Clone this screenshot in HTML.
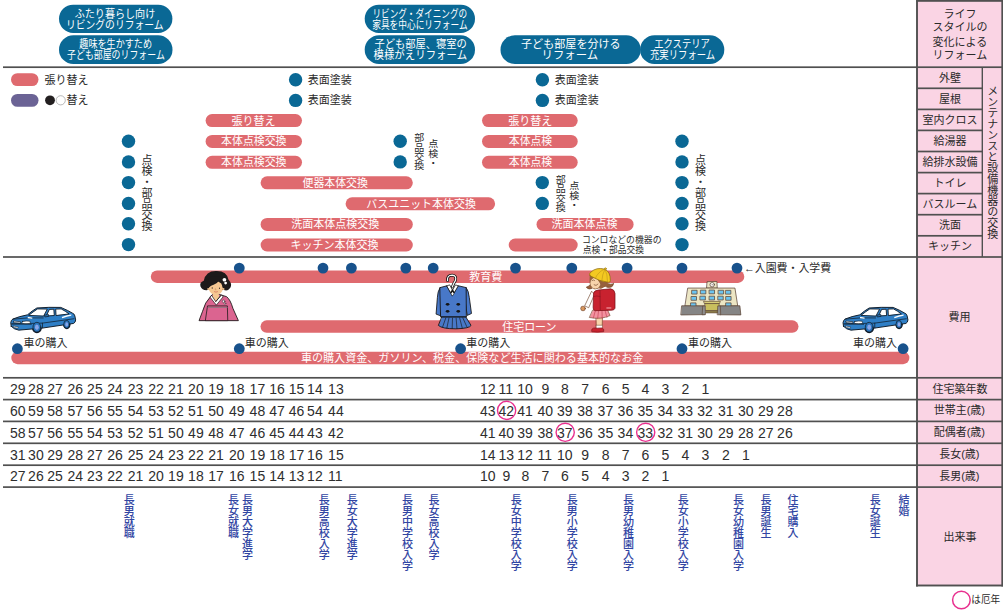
<!DOCTYPE html>
<html lang="ja"><head><meta charset="utf-8"><title>ライフステージとリフォーム・費用の年表</title>
<style>html,body{margin:0;padding:0;background:#fff}body{font-family:"Liberation Sans",sans-serif}svg{display:block}svg text{font-family:"Liberation Sans","Noto Sans CJK JP",sans-serif}</style></head>
<body>
<svg width="1003" height="610" viewBox="0 0 1003 610" role="img">
<rect x="917" y="0" width="86" height="586" fill="#fad4e4"/>
<rect x="59" y="4.7" width="113.4" height="28.3" rx="14.15" fill="#0a6895"/>
<text x="74.7" y="18.04" font-size="11" fill="#ffffff" textLength="80.5" lengthAdjust="spacingAndGlyphs">ふたり暮らし向け</text>
<text x="65.9" y="28.84" font-size="11" fill="#ffffff" textLength="97.7" lengthAdjust="spacingAndGlyphs">リビングのリフォーム</text>
<rect x="59" y="35.2" width="113.5" height="28.9" rx="14.45" fill="#0a6895"/>
<text x="79.3" y="48.14" font-size="11" fill="#ffffff" textLength="72.7" lengthAdjust="spacingAndGlyphs">趣味を生かすため</text>
<text x="67.1" y="59.04" font-size="11" fill="#ffffff" textLength="97.7" lengthAdjust="spacingAndGlyphs">子ども部屋のリフォーム</text>
<rect x="364.7" y="4.7" width="110.3" height="28.3" rx="14.15" fill="#0a6895"/>
<text x="372.4" y="18.04" font-size="11" fill="#ffffff" textLength="94.8" lengthAdjust="spacingAndGlyphs">リビング・ダイニングの</text>
<text x="372.2" y="28.84" font-size="11" fill="#ffffff" textLength="95.4" lengthAdjust="spacingAndGlyphs">家具を中心にリフォーム</text>
<rect x="364.7" y="35.2" width="110.3" height="28.9" rx="14.45" fill="#0a6895"/>
<text x="374.4" y="48.14" font-size="11" fill="#ffffff" textLength="92.4" lengthAdjust="spacingAndGlyphs">子ども部屋、寝室の</text>
<text x="373.5" y="59.04" font-size="11" fill="#ffffff" textLength="93.6" lengthAdjust="spacingAndGlyphs">模様がえリフォーム</text>
<rect x="500.5" y="35.2" width="140.2" height="28.9" rx="14.45" fill="#0a6895"/>
<text x="521" y="48.14" font-size="11" fill="#ffffff" textLength="99.7" lengthAdjust="spacingAndGlyphs">子ども部屋を分ける</text>
<text x="541.6" y="59.04" font-size="11" fill="#ffffff" textLength="56.5" lengthAdjust="spacingAndGlyphs">リフォーム</text>
<rect x="640.1" y="35.2" width="84.2" height="28.9" rx="14.45" fill="#0a6895"/>
<text x="654.2" y="48.14" font-size="11" fill="#ffffff" textLength="55.7" lengthAdjust="spacingAndGlyphs">エクステリア</text>
<text x="650" y="59.04" font-size="11" fill="#ffffff" textLength="65.2" lengthAdjust="spacingAndGlyphs">充実リフォーム</text>
<rect x="11" y="73.2" width="27.5" height="12.8" rx="6.4" fill="#df6a6f"/>
<rect x="11" y="93.9" width="27.5" height="12.9" rx="6.45" fill="#6b6395"/>
<text x="44.5" y="84.04" font-size="11" fill="#2a2a2a">張り替え</text>
<circle cx="50" cy="100.3" r="4.9" fill="#231f20"/>
<circle cx="60.7" cy="100.3" r="4.6" fill="#fff" stroke="#8a8a8a" stroke-width="0.6"/>
<text x="66.5" y="104.34" font-size="11" fill="#2a2a2a">替え</text>
<circle cx="295.6" cy="79.8" r="6.7" fill="#0a6895"/>
<text x="307.7" y="83.84" font-size="11" fill="#2a2a2a">表面塗装</text>
<circle cx="295.6" cy="100.4" r="6.7" fill="#0a6895"/>
<text x="307.7" y="104.44" font-size="11" fill="#2a2a2a">表面塗装</text>
<circle cx="542.4" cy="79.8" r="6.7" fill="#0a6895"/>
<text x="554.7" y="83.84" font-size="11" fill="#2a2a2a">表面塗装</text>
<circle cx="542.4" cy="100.4" r="6.7" fill="#0a6895"/>
<text x="554.7" y="104.44" font-size="11" fill="#2a2a2a">表面塗装</text>
<rect x="205.6" y="114.1" width="96.4" height="13" rx="6.5" fill="#df6a6f"/>
<text x="231.6" y="124.64" font-size="11" fill="#ffffff">張り替え</text>
<rect x="482" y="114.1" width="95.7" height="13" rx="6.5" fill="#df6a6f"/>
<text x="508.3" y="124.64" font-size="11" fill="#ffffff">張り替え</text>
<rect x="205.6" y="134.9" width="96.4" height="13" rx="6.5" fill="#df6a6f"/>
<text x="221.1" y="145.44" font-size="11" fill="#ffffff" textLength="65.4" lengthAdjust="spacingAndGlyphs">本体点検交換</text>
<rect x="482" y="134.9" width="95.7" height="13" rx="6.5" fill="#df6a6f"/>
<text x="508.8" y="145.44" font-size="11" fill="#ffffff" textLength="43.4" lengthAdjust="spacingAndGlyphs">本体点検</text>
<rect x="205.6" y="155.8" width="96.4" height="13" rx="6.5" fill="#df6a6f"/>
<text x="221.1" y="166.34" font-size="11" fill="#ffffff" textLength="65.4" lengthAdjust="spacingAndGlyphs">本体点検交換</text>
<rect x="482" y="155.8" width="95.7" height="13" rx="6.5" fill="#df6a6f"/>
<text x="508.8" y="166.34" font-size="11" fill="#ffffff" textLength="43.4" lengthAdjust="spacingAndGlyphs">本体点検</text>
<rect x="260.6" y="176.3" width="152.2" height="13" rx="6.5" fill="#df6a6f"/>
<text x="302.5" y="186.84" font-size="11" fill="#ffffff" textLength="65.4" lengthAdjust="spacingAndGlyphs">便器本体交換</text>
<rect x="345.6" y="197.3" width="149.5" height="13" rx="6.5" fill="#df6a6f"/>
<text x="366.3" y="207.84" font-size="11" fill="#ffffff" textLength="109.6" lengthAdjust="spacingAndGlyphs">バスユニット本体交換</text>
<rect x="260.6" y="217.9" width="152.2" height="13" rx="6.5" fill="#df6a6f"/>
<text x="291.2" y="228.44" font-size="11" fill="#ffffff">洗面本体点検交換</text>
<rect x="536.5" y="217.9" width="97.1" height="13" rx="6.5" fill="#df6a6f"/>
<text x="551.4" y="228.44" font-size="11" fill="#ffffff">洗面本体点検</text>
<rect x="260.6" y="238.5" width="152.2" height="13" rx="6.5" fill="#df6a6f"/>
<text x="290.6" y="249.04" font-size="11" fill="#ffffff">キッチン本体交換</text>
<rect x="508.7" y="238.5" width="69" height="13" rx="6.5" fill="#df6a6f"/>
<circle cx="128.5" cy="141.2" r="6.7" fill="#0a6895"/>
<circle cx="682" cy="141.2" r="6.7" fill="#0a6895"/>
<circle cx="128.5" cy="161.9" r="6.7" fill="#0a6895"/>
<circle cx="682" cy="161.9" r="6.7" fill="#0a6895"/>
<circle cx="128.5" cy="182.6" r="6.7" fill="#0a6895"/>
<circle cx="682" cy="182.6" r="6.7" fill="#0a6895"/>
<circle cx="128.5" cy="203.4" r="6.7" fill="#0a6895"/>
<circle cx="682" cy="203.4" r="6.7" fill="#0a6895"/>
<circle cx="128.5" cy="223.8" r="6.7" fill="#0a6895"/>
<circle cx="682" cy="223.8" r="6.7" fill="#0a6895"/>
<circle cx="128.5" cy="244.6" r="6.7" fill="#0a6895"/>
<circle cx="682" cy="244.6" r="6.7" fill="#0a6895"/>
<circle cx="400.2" cy="141.2" r="6.7" fill="#0a6895"/>
<circle cx="400.2" cy="161.9" r="6.7" fill="#0a6895"/>
<circle cx="542.3" cy="182.6" r="6.7" fill="#0a6895"/>
<circle cx="542.3" cy="203.4" r="6.7" fill="#0a6895"/>
<text x="146.1" y="154.3" font-size="11" fill="#2a2a2a" style="writing-mode:vertical-rl">点検・部品交換</text>
<text x="699.5" y="154.3" font-size="11" fill="#2a2a2a" style="writing-mode:vertical-rl">点検・部品交換</text>
<text x="418.2" y="133.1" font-size="10" fill="#2a2a2a" style="writing-mode:vertical-rl" textLength="37.2" lengthAdjust="spacingAndGlyphs">部品交換</text>
<text x="432.2" y="138.9" font-size="10" fill="#2a2a2a" style="writing-mode:vertical-rl" textLength="28.3" lengthAdjust="spacingAndGlyphs">点検・</text>
<text x="559.8" y="174.3" font-size="10" fill="#2a2a2a" style="writing-mode:vertical-rl" textLength="38" lengthAdjust="spacingAndGlyphs">部品交換</text>
<text x="573.2" y="180.8" font-size="10" fill="#2a2a2a" style="writing-mode:vertical-rl" textLength="28.5" lengthAdjust="spacingAndGlyphs">点検・</text>
<text x="581.9" y="243.48" font-size="9.4" fill="#2a2a2a" textLength="79.6" lengthAdjust="spacingAndGlyphs">コンロなどの機器の</text>
<text x="582.7" y="252.68" font-size="9.4" fill="#2a2a2a" textLength="61.3" lengthAdjust="spacingAndGlyphs">点検・部品交換</text>
<rect x="150.8" y="270.4" width="593.5" height="12.5" rx="6.25" fill="#df6a6f"/>
<rect x="260.5" y="320.3" width="538" height="12.5" rx="6.25" fill="#df6a6f"/>
<rect x="11.3" y="351.7" width="898.1" height="12.5" rx="6.25" fill="#df6a6f"/>
<text x="469.3" y="280.84" font-size="11" fill="#ffffff">教育費</text>
<text x="502.2" y="330.54" font-size="11" fill="#ffffff" textLength="54.3" lengthAdjust="spacingAndGlyphs">住宅ローン</text>
<text x="300.9" y="362.04" font-size="11" fill="#ffffff" textLength="342.4" lengthAdjust="spacingAndGlyphs">車の購入資金、ガソリン、税金、保険など生活に関わる基本的なお金</text>
<g transform="translate(5.00 300.00) scale(0.07974)" stroke-linejoin="round" stroke-linecap="round"><title>車</title><ellipse cx="775" cy="306" rx="47" ry="60" fill="#101a26"/><ellipse cx="400" cy="342" rx="63" ry="76" fill="#101a26"/><path d="M78 330 L72 285 Q75 250 100 238 Q180 205 282 186 Q340 135 400 100 Q550 88 700 93 Q790 130 848 166 Q872 175 876 200 L886 250 Q884 282 860 294 L470 352 L172 378 Q110 368 78 330Z" fill="#2f7fc6" stroke="#101a26" stroke-width="12"/><path d="M300 190 Q350 150 408 112 L530 114 L486 198Z" fill="#fff" stroke="#101a26" stroke-width="11"/><path d="M520 196 L556 118 L612 116 L618 190Z" fill="#fff" stroke="#101a26" stroke-width="11"/><path d="M640 190 L636 114 L705 112 Q760 140 800 172Z" fill="#fff" stroke="#101a26" stroke-width="11"/><path d="M500 190 L545 182 L548 205 L505 212Z" fill="#2f7fc6" stroke="#101a26" stroke-width="9"/><path d="M92 300 L470 290 L865 235 M470 290 L470 350 M100 240 Q300 215 480 225" fill="none" stroke="#101a26" stroke-width="9"/><path d="M218 270 Q265 258 312 266 Q322 282 310 294 Q262 300 220 294 Q208 282 218 270Z" fill="#fff" stroke="#101a26" stroke-width="8"/><path d="M110 264 L195 272 L195 290 L114 284Z" fill="#fff" stroke="#101a26" stroke-width="8"/><path d="M104 326 L166 338 L166 354 L108 344Z" fill="#fff" stroke="#101a26" stroke-width="6"/><path d="M80 300 L330 306" fill="none" stroke="#101a26" stroke-width="8"/><path d="M285 214 Q320 212 345 222 L340 236 Q315 230 285 228Z" fill="#fff"/><path d="M712 212 Q780 186 834 182 L830 198 Q780 208 718 230Z" fill="#fff"/><ellipse cx="400" cy="341" rx="49" ry="61" fill="#2a74bb" stroke="#101a26" stroke-width="9"/><ellipse cx="400" cy="342" rx="24" ry="34" fill="#8aa6e8"/><ellipse cx="772" cy="305" rx="36" ry="48" fill="#2a74bb" stroke="#101a26" stroke-width="9"/><ellipse cx="774" cy="306" rx="17" ry="26" fill="#8aa6e8"/></g>
<g transform="translate(837.30 300.00) scale(0.07974)" stroke-linejoin="round" stroke-linecap="round"><title>車</title><ellipse cx="775" cy="306" rx="47" ry="60" fill="#101a26"/><ellipse cx="400" cy="342" rx="63" ry="76" fill="#101a26"/><path d="M78 330 L72 285 Q75 250 100 238 Q180 205 282 186 Q340 135 400 100 Q550 88 700 93 Q790 130 848 166 Q872 175 876 200 L886 250 Q884 282 860 294 L470 352 L172 378 Q110 368 78 330Z" fill="#2f7fc6" stroke="#101a26" stroke-width="12"/><path d="M300 190 Q350 150 408 112 L530 114 L486 198Z" fill="#fff" stroke="#101a26" stroke-width="11"/><path d="M520 196 L556 118 L612 116 L618 190Z" fill="#fff" stroke="#101a26" stroke-width="11"/><path d="M640 190 L636 114 L705 112 Q760 140 800 172Z" fill="#fff" stroke="#101a26" stroke-width="11"/><path d="M500 190 L545 182 L548 205 L505 212Z" fill="#2f7fc6" stroke="#101a26" stroke-width="9"/><path d="M92 300 L470 290 L865 235 M470 290 L470 350 M100 240 Q300 215 480 225" fill="none" stroke="#101a26" stroke-width="9"/><path d="M218 270 Q265 258 312 266 Q322 282 310 294 Q262 300 220 294 Q208 282 218 270Z" fill="#fff" stroke="#101a26" stroke-width="8"/><path d="M110 264 L195 272 L195 290 L114 284Z" fill="#fff" stroke="#101a26" stroke-width="8"/><path d="M104 326 L166 338 L166 354 L108 344Z" fill="#fff" stroke="#101a26" stroke-width="6"/><path d="M80 300 L330 306" fill="none" stroke="#101a26" stroke-width="8"/><path d="M285 214 Q320 212 345 222 L340 236 Q315 230 285 228Z" fill="#fff"/><path d="M712 212 Q780 186 834 182 L830 198 Q780 208 718 230Z" fill="#fff"/><ellipse cx="400" cy="341" rx="49" ry="61" fill="#2a74bb" stroke="#101a26" stroke-width="9"/><ellipse cx="400" cy="342" rx="24" ry="34" fill="#8aa6e8"/><ellipse cx="772" cy="305" rx="36" ry="48" fill="#2a74bb" stroke="#101a26" stroke-width="9"/><ellipse cx="774" cy="306" rx="17" ry="26" fill="#8aa6e8"/></g>
<g transform="translate(190.00 265.00) scale(0.09833)" stroke-linejoin="round" stroke-linecap="round"><title>成人式の振袖姿の女性</title><path d="M208 322 Q150 380 128 470 L92 566 L492 566 L436 440 Q410 350 372 322 L300 300 L230 302Z" fill="#db6490" stroke="#1d1a1a" stroke-width="9"/><path d="M235 290 L290 290 L300 330 L262 372 L228 330Z" fill="#f6c792"/><path d="M222 312 L262 372 L318 306 L338 322 L268 408 L204 328Z" fill="#fff" stroke="#1d1a1a" stroke-width="7"/><path d="M262 372 L318 306" fill="none" stroke="#1d1a1a" stroke-width="7"/><path d="M182 416 L380 416 L384 566 L160 566Z" fill="#db6490" stroke="#1d1a1a" stroke-width="8"/><path d="M184 432 L380 432" fill="none" stroke="#7a7a7a" stroke-width="7"/><circle cx="342" cy="370" r="13" fill="#f3e6ee" stroke="#1d1a1a" stroke-width="5"/><circle cx="356" cy="392" r="9" fill="#f3e6ee" stroke="#1d1a1a" stroke-width="4"/><path d="M262 60 Q375 55 392 150 Q432 190 410 232 Q385 270 345 255 L180 255 Q125 262 106 215 Q96 175 140 160 Q160 60 262 60Z" fill="#1d1a1a"/><circle cx="186" cy="244" r="11" fill="#f6c792"/><circle cx="340" cy="244" r="11" fill="#f6c792"/><ellipse cx="263" cy="236" rx="71" ry="70" fill="#f6c792"/><path d="M186 240 Q196 214 240 200 Q280 186 300 152 Q330 186 338 240 Q372 150 300 112 L205 122 Q160 170 186 240Z" fill="#1d1a1a"/><ellipse cx="226" cy="234" rx="6" ry="8" fill="#3a2a22"/><ellipse cx="300" cy="236" rx="6" ry="8" fill="#3a2a22"/><path d="M258 240 L256 252 L264 252" fill="none" stroke="#b0764e" stroke-width="4"/><path d="M248 272 Q264 282 280 272" fill="none" stroke="#c2453f" stroke-width="5"/><circle cx="350" cy="150" r="19" fill="#fff"/><circle cx="362" cy="184" r="14" fill="#fff"/></g>
<g transform="translate(425.00 270.00) scale(0.10658)" stroke-linejoin="round" stroke-linecap="round"><title>中学・高校の制服</title><path d="M212 100 Q205 48 255 48 Q300 52 285 100 Q268 125 256 160" fill="none" stroke="#141414" stroke-width="26"/><path d="M212 100 Q205 48 255 48 Q300 52 285 100 Q268 125 256 160" fill="none" stroke="#fff" stroke-width="11"/><path d="M162 436 L380 436 L432 520 Q420 548 290 552 Q160 552 128 522Z" fill="#4878c8" stroke="#141414" stroke-width="8"/><path d="M195 450 L165 535 M225 450 L205 545 M258 452 L255 550 M292 452 L300 550 M325 450 L350 545 M355 450 L395 538" fill="none" stroke="#141414" stroke-width="6"/><path d="M142 165 Q118 200 116 260 L104 414 L148 430 L168 300Z" fill="#4878c8" stroke="#141414" stroke-width="8"/><path d="M386 165 Q410 195 416 260 L436 408 L396 426 L378 300Z" fill="#4878c8" stroke="#141414" stroke-width="8"/><path d="M142 165 L206 148 L258 238 L312 148 L386 165 L388 440 L150 440Z" fill="#4878c8" stroke="#141414" stroke-width="8"/><path d="M206 148 L232 140 L258 190 L286 140 L312 148 L258 242Z" fill="#fff" stroke="#141414" stroke-width="7"/><path d="M258 178 L280 208 L258 240 L236 208Z" fill="#141414"/><path d="M258 205 L270 222 L258 240 L246 222Z" fill="#fff"/><ellipse cx="212" cy="322" rx="17" ry="13" fill="#141414"/><ellipse cx="312" cy="322" rx="17" ry="13" fill="#141414"/><ellipse cx="212" cy="388" rx="17" ry="13" fill="#141414"/><ellipse cx="312" cy="388" rx="17" ry="13" fill="#141414"/><path d="M150 440 L388 440" stroke="#141414" stroke-width="8"/></g>
<g transform="translate(570.00 262.00) scale(0.12296)" stroke-linejoin="round" stroke-linecap="round"><title>ランドセルを背負った小学生</title><path d="M300 170 Q335 190 355 172 Q350 215 300 205Z" fill="#96603c" stroke="#6b3d22" stroke-width="5"/><path d="M190 205 Q160 235 132 205 Q150 200 165 185Z" fill="#96603c" stroke="#6b3d22" stroke-width="5"/><path d="M160 110 Q150 200 200 222 L300 200 L310 140Z" fill="#96603c"/><path d="M214 450 L264 450 L262 520 L216 520Z" fill="#f8d3ab" stroke="#6b3d22" stroke-width="5"/><path d="M214 514 L264 514 L264 545 L214 545Z" fill="#fff" stroke="#6b3d22" stroke-width="4"/><path d="M176 552 Q180 530 222 538 L262 536 Q280 545 274 566 Q225 575 180 568Z" fill="#c8222f" stroke="#7a1018" stroke-width="5"/><path d="M186 392 L305 388 L326 436 Q250 470 160 452Z" fill="#f3929f" stroke="#6b3d22" stroke-width="5"/><path d="M205 400 L190 455 M232 398 L225 460 M260 396 L262 460 M285 394 L300 450" fill="none" stroke="#c84a5e" stroke-width="6"/><ellipse cx="207" cy="172" rx="44" ry="47" fill="#f8d3ab" stroke="#6b3d22" stroke-width="4"/><path d="M180 150 Q190 140 200 150" fill="none" stroke="#6b3d22" stroke-width="5"/><path d="M196 186 Q212 200 228 180" fill="none" stroke="#6b3d22" stroke-width="5"/><path d="M215 120 Q235 170 260 190 Q250 215 232 222 Q290 215 300 150Z" fill="#96603c"/><path d="M178 240 L200 262 L152 372 L122 358Z" fill="#fff" stroke="#6b3d22" stroke-width="5"/><circle cx="106" cy="378" r="19" fill="#d9975e" stroke="#6b3d22" stroke-width="5"/><path d="M192 250 Q196 232 230 228 L330 218 Q362 222 366 256 L366 376 Q360 392 340 392 L205 396 Q186 392 188 372Z" fill="#c8222f" stroke="#7a1018" stroke-width="6"/><path d="M244 232 L246 392" stroke="#8e1420" stroke-width="6"/><path d="M192 280 Q215 272 244 280" fill="none" stroke="#8e1420" stroke-width="5"/><rect x="296" y="366" width="40" height="16" fill="#e36a74"/><path d="M163 112 Q150 96 170 82 Q215 40 282 58 Q330 80 328 150 Q330 168 312 165 Q240 160 163 112Z" fill="#f3c921" stroke="#8c6a12" stroke-width="6"/><path d="M285 56 Q262 100 258 155 M285 56 Q225 80 205 135 M285 56 Q305 100 305 160" fill="none" stroke="#b08a18" stroke-width="4"/><circle cx="288" cy="55" r="8" fill="#f3c921" stroke="#8c6a12" stroke-width="4"/></g>
<g transform="translate(672.00 272.00) scale(0.08197)" stroke-linejoin="round" stroke-linecap="round"><title>学校</title><path d="M432 118 L548 116 L552 196 L426 196Z" fill="#ece6c4" stroke="#5a4334" stroke-width="9"/><circle cx="490" cy="155" r="27" fill="#fff" stroke="#5a4334" stroke-width="9"/><circle cx="490" cy="155" r="7" fill="#5a4334"/><path d="M196 196 L768 196 L802 415 L162 415Z" fill="#ece6c4" stroke="#5a4334" stroke-width="9"/><rect x="244" y="223" width="62" height="46" fill="#6cc4f0" stroke="#5a4334" stroke-width="9"/><rect x="351" y="221" width="62" height="46" fill="#6cc4f0" stroke="#5a4334" stroke-width="9"/><rect x="457" y="220" width="62" height="46" fill="#6cc4f0" stroke="#5a4334" stroke-width="9"/><rect x="567" y="223" width="62" height="46" fill="#6cc4f0" stroke="#5a4334" stroke-width="9"/><rect x="656" y="224" width="62" height="46" fill="#6cc4f0" stroke="#5a4334" stroke-width="9"/><rect x="237" y="299" width="62" height="46" fill="#6cc4f0" stroke="#5a4334" stroke-width="9"/><rect x="345" y="295" width="62" height="46" fill="#6cc4f0" stroke="#5a4334" stroke-width="9"/><rect x="457" y="295" width="62" height="46" fill="#6cc4f0" stroke="#5a4334" stroke-width="9"/><rect x="563" y="295" width="62" height="46" fill="#6cc4f0" stroke="#5a4334" stroke-width="9"/><rect x="659" y="299" width="62" height="46" fill="#6cc4f0" stroke="#5a4334" stroke-width="9"/><rect x="231" y="377" width="62" height="46" fill="#6cc4f0" stroke="#5a4334" stroke-width="9"/><rect x="659" y="377" width="62" height="46" fill="#6cc4f0" stroke="#5a4334" stroke-width="9"/><path d="M388 358 L590 358 L580 385 L400 385Z" fill="#d8cf78" stroke="#5a4334" stroke-width="8"/><path d="M404 385 L576 385 L570 470 L410 470Z" fill="#c9bf5e" stroke="#5a4334" stroke-width="8"/><path d="M415 470 L565 470 L575 500 L405 500Z" fill="#8a7a4a" stroke="#5a4334" stroke-width="6"/><path d="M122 412 L385 414 L400 520 L112 524Z" fill="#858585" stroke="#5a4334" stroke-width="9"/><path d="M380 414 L404 414 L408 520 L372 522Z" fill="#8e8e8e" stroke="#5a4334" stroke-width="8"/><path d="M590 414 L828 412 L840 524 L590 522Z" fill="#858585" stroke="#5a4334" stroke-width="9"/><path d="M562 414 L590 414 L594 522 L556 522Z" fill="#8e8e8e" stroke="#5a4334" stroke-width="8"/></g>
<circle cx="239.3" cy="268.1" r="5.4" fill="#18528c"/>
<circle cx="323" cy="268.1" r="5.4" fill="#18528c"/>
<circle cx="351.4" cy="268.1" r="5.4" fill="#18528c"/>
<circle cx="405.8" cy="268.1" r="5.4" fill="#18528c"/>
<circle cx="433.2" cy="268.1" r="5.4" fill="#18528c"/>
<circle cx="515.5" cy="268.1" r="5.4" fill="#18528c"/>
<circle cx="571.8" cy="268.1" r="5.4" fill="#18528c"/>
<circle cx="627.1" cy="268.1" r="5.4" fill="#18528c"/>
<circle cx="682" cy="268.1" r="5.4" fill="#18528c"/>
<circle cx="737" cy="268.1" r="5.4" fill="#18528c"/>
<circle cx="17.4" cy="348.7" r="5.4" fill="#18528c"/>
<circle cx="239.3" cy="348.7" r="5.4" fill="#18528c"/>
<circle cx="460.6" cy="348.7" r="5.4" fill="#18528c"/>
<circle cx="682" cy="348.7" r="5.4" fill="#18528c"/>
<circle cx="903.1" cy="348.7" r="5.4" fill="#18528c"/>
<text x="23.5" y="346.74" font-size="11" fill="#2a2a2a">車の購入</text>
<text x="244.8" y="346.74" font-size="11" fill="#2a2a2a">車の購入</text>
<text x="466.2" y="346.74" font-size="11" fill="#2a2a2a">車の購入</text>
<text x="688" y="346.74" font-size="11" fill="#2a2a2a">車の購入</text>
<text x="853.1" y="346.74" font-size="11" fill="#2a2a2a">車の購入</text>
<text x="743.9" y="272.04" font-size="11" fill="#2a2a2a" textLength="87.2" lengthAdjust="spacingAndGlyphs">←入園費・入学費</text>
<rect x="3" y="66.35" width="1000" height="1.7" fill="#505050"/>
<rect x="3" y="256.15" width="1000" height="1.7" fill="#505050"/>
<rect x="3" y="376.95" width="1000" height="1.7" fill="#505050"/>
<rect x="3" y="398.75" width="1000" height="1.7" fill="#505050"/>
<rect x="3" y="420.55" width="1000" height="1.7" fill="#505050"/>
<rect x="3" y="442.45" width="1000" height="1.7" fill="#505050"/>
<rect x="3" y="464.35" width="1000" height="1.7" fill="#505050"/>
<rect x="3" y="486.25" width="1000" height="1.7" fill="#505050"/>
<rect x="916.05" y="0" width="1.9" height="586.5" fill="#505050"/>
<rect x="1001.35" y="0" width="1.7" height="586.5" fill="#505050"/>
<rect x="916.5" y="0" width="86.5" height="1.8" fill="#505050"/>
<rect x="916.1" y="584.55" width="86.9" height="1.9" fill="#505050"/>
<rect x="981.6" y="67.2" width="1.4" height="189.8" fill="#505050"/>
<rect x="917.3" y="87.45" width="65" height="1.7" fill="#505050"/>
<rect x="917.3" y="108.55" width="65" height="1.7" fill="#505050"/>
<rect x="917.3" y="129.55" width="65" height="1.7" fill="#505050"/>
<rect x="917.3" y="150.65" width="65" height="1.7" fill="#505050"/>
<rect x="917.3" y="171.75" width="65" height="1.7" fill="#505050"/>
<rect x="917.3" y="192.75" width="65" height="1.7" fill="#505050"/>
<rect x="917.3" y="213.85" width="65" height="1.7" fill="#505050"/>
<rect x="917.3" y="234.95" width="65" height="1.7" fill="#505050"/>
<text x="943.5" y="17.74" font-size="11" fill="#2a2a2a">ライフ</text>
<text x="932.5" y="31.44" font-size="11" fill="#2a2a2a">スタイルの</text>
<text x="932.5" y="45.64" font-size="11" fill="#2a2a2a">変化による</text>
<text x="932.5" y="59.34" font-size="11" fill="#2a2a2a">リフォーム</text>
<text x="939" y="81.84" font-size="11" fill="#2a2a2a">外壁</text>
<text x="939" y="102.94" font-size="11" fill="#2a2a2a">屋根</text>
<text x="922.5" y="124.04" font-size="11" fill="#2a2a2a">室内クロス</text>
<text x="933.5" y="145.04" font-size="11" fill="#2a2a2a">給湯器</text>
<text x="922.5" y="166.04" font-size="11" fill="#2a2a2a">給排水設備</text>
<text x="933.5" y="187.14" font-size="11" fill="#2a2a2a">トイレ</text>
<text x="922.5" y="208.24" font-size="11" fill="#2a2a2a">バスルーム</text>
<text x="939" y="229.24" font-size="11" fill="#2a2a2a">洗面</text>
<text x="928" y="250.34" font-size="11" fill="#2a2a2a">キッチン</text>
<text x="991.8" y="85.8" font-size="11" fill="#2a2a2a" style="writing-mode:vertical-rl" textLength="153.3">メンテナンスと設備機器の交換</text>
<text x="948.5" y="321.14" font-size="11" fill="#2a2a2a">費用</text>
<text x="932.5" y="392.74" font-size="11" fill="#2a2a2a">住宅築年数</text>
<text x="933.7" y="414.44" font-size="11" fill="#2a2a2a">世帯主(歳)</text>
<text x="933.7" y="436.44" font-size="11" fill="#2a2a2a">配偶者(歳)</text>
<text x="939.2" y="458.34" font-size="11" fill="#2a2a2a">長女(歳)</text>
<text x="939.2" y="480.24" font-size="11" fill="#2a2a2a">長男(歳)</text>
<text x="943.5" y="540.74" font-size="11" fill="#2a2a2a">出来事</text>
<g fill="#2e2e2e" font-size="14">
<text x="9.9" y="393.91">29</text>
<text x="28.1" y="393.91">28</text>
<text x="47.3" y="393.91">27</text>
<text x="67.4" y="393.91">26</text>
<text x="87.1" y="393.91">25</text>
<text x="107.3" y="393.91">24</text>
<text x="127.8" y="393.91">23</text>
<text x="148.2" y="393.91">22</text>
<text x="168.1" y="393.91">21</text>
<text x="188.1" y="393.91">20</text>
<text x="208.2" y="393.91">19</text>
<text x="228.9" y="393.91">18</text>
<text x="249.6" y="393.91">17</text>
<text x="269.3" y="393.91">16</text>
<text x="288.8" y="393.91">15</text>
<text x="307.1" y="393.91">14</text>
<text x="328.1" y="393.91">13</text>
<text x="480" y="393.91">12</text>
<text x="498.4" y="393.91">11</text>
<text x="517.3" y="393.91">10</text>
<text x="541.59" y="393.91">9</text>
<text x="561.09" y="393.91">8</text>
<text x="581.29" y="393.91">7</text>
<text x="601.69" y="393.91">6</text>
<text x="621.69" y="393.91">5</text>
<text x="641.59" y="393.91">4</text>
<text x="661.59" y="393.91">3</text>
<text x="681.49" y="393.91">2</text>
<text x="701.39" y="393.91">1</text>
<text x="9.9" y="415.71">60</text>
<text x="28.1" y="415.71">59</text>
<text x="47.3" y="415.71">58</text>
<text x="67.4" y="415.71">57</text>
<text x="87.1" y="415.71">56</text>
<text x="107.3" y="415.71">55</text>
<text x="127.8" y="415.71">54</text>
<text x="148.2" y="415.71">53</text>
<text x="168.1" y="415.71">52</text>
<text x="188.1" y="415.71">51</text>
<text x="208.2" y="415.71">50</text>
<text x="228.9" y="415.71">49</text>
<text x="249.6" y="415.71">48</text>
<text x="269.3" y="415.71">47</text>
<text x="288.8" y="415.71">46</text>
<text x="307.1" y="415.71">54</text>
<text x="328.1" y="415.71">44</text>
<text x="480" y="415.71">43</text>
<text x="498.4" y="415.71">42</text>
<text x="517.3" y="415.71">41</text>
<text x="537.5" y="415.71">40</text>
<text x="557" y="415.71">39</text>
<text x="577.2" y="415.71">38</text>
<text x="597.6" y="415.71">37</text>
<text x="617.6" y="415.71">36</text>
<text x="637.5" y="415.71">35</text>
<text x="657.5" y="415.71">34</text>
<text x="677.4" y="415.71">33</text>
<text x="697.3" y="415.71">32</text>
<text x="717.9" y="415.71">31</text>
<text x="737.9" y="415.71">30</text>
<text x="757.9" y="415.71">29</text>
<text x="777.1" y="415.71">28</text>
<text x="9.9" y="437.61">58</text>
<text x="28.1" y="437.61">57</text>
<text x="47.3" y="437.61">56</text>
<text x="67.4" y="437.61">55</text>
<text x="87.1" y="437.61">54</text>
<text x="107.3" y="437.61">53</text>
<text x="127.8" y="437.61">52</text>
<text x="148.2" y="437.61">51</text>
<text x="168.1" y="437.61">50</text>
<text x="188.1" y="437.61">49</text>
<text x="208.2" y="437.61">48</text>
<text x="228.9" y="437.61">47</text>
<text x="249.6" y="437.61">46</text>
<text x="269.3" y="437.61">45</text>
<text x="288.8" y="437.61">44</text>
<text x="307.1" y="437.61">43</text>
<text x="328.1" y="437.61">42</text>
<text x="480" y="437.61">41</text>
<text x="498.4" y="437.61">40</text>
<text x="517.3" y="437.61">39</text>
<text x="537.5" y="437.61">38</text>
<text x="557" y="437.61">37</text>
<text x="577.2" y="437.61">36</text>
<text x="597.6" y="437.61">35</text>
<text x="617.6" y="437.61">34</text>
<text x="637.5" y="437.61">33</text>
<text x="657.5" y="437.61">32</text>
<text x="677.4" y="437.61">31</text>
<text x="697.3" y="437.61">30</text>
<text x="717.9" y="437.61">29</text>
<text x="737.9" y="437.61">28</text>
<text x="757.9" y="437.61">27</text>
<text x="777.1" y="437.61">26</text>
<text x="9.9" y="459.51">31</text>
<text x="28.1" y="459.51">30</text>
<text x="47.3" y="459.51">29</text>
<text x="67.4" y="459.51">28</text>
<text x="87.1" y="459.51">27</text>
<text x="107.3" y="459.51">26</text>
<text x="127.8" y="459.51">25</text>
<text x="148.2" y="459.51">24</text>
<text x="168.1" y="459.51">23</text>
<text x="188.1" y="459.51">22</text>
<text x="208.2" y="459.51">21</text>
<text x="228.9" y="459.51">20</text>
<text x="249.6" y="459.51">19</text>
<text x="269.3" y="459.51">18</text>
<text x="288.8" y="459.51">17</text>
<text x="307.1" y="459.51">16</text>
<text x="328.1" y="459.51">15</text>
<text x="480" y="459.51">14</text>
<text x="498.4" y="459.51">13</text>
<text x="517.3" y="459.51">12</text>
<text x="537.5" y="459.51">11</text>
<text x="557" y="459.51">10</text>
<text x="581.29" y="459.51">9</text>
<text x="601.69" y="459.51">8</text>
<text x="621.69" y="459.51">7</text>
<text x="641.59" y="459.51">6</text>
<text x="661.59" y="459.51">5</text>
<text x="681.49" y="459.51">4</text>
<text x="701.39" y="459.51">3</text>
<text x="721.99" y="459.51">2</text>
<text x="741.99" y="459.51">1</text>
<text x="9.9" y="481.41">27</text>
<text x="28.1" y="481.41">26</text>
<text x="47.3" y="481.41">25</text>
<text x="67.4" y="481.41">24</text>
<text x="87.1" y="481.41">23</text>
<text x="107.3" y="481.41">22</text>
<text x="127.8" y="481.41">21</text>
<text x="148.2" y="481.41">20</text>
<text x="168.1" y="481.41">19</text>
<text x="188.1" y="481.41">18</text>
<text x="208.2" y="481.41">17</text>
<text x="228.9" y="481.41">16</text>
<text x="249.6" y="481.41">15</text>
<text x="269.3" y="481.41">14</text>
<text x="288.8" y="481.41">13</text>
<text x="307.1" y="481.41">12</text>
<text x="328.1" y="481.41">11</text>
<text x="480" y="481.41">10</text>
<text x="502.49" y="481.41">9</text>
<text x="521.39" y="481.41">8</text>
<text x="541.59" y="481.41">7</text>
<text x="561.09" y="481.41">6</text>
<text x="581.29" y="481.41">5</text>
<text x="601.69" y="481.41">4</text>
<text x="621.69" y="481.41">3</text>
<text x="641.59" y="481.41">2</text>
<text x="661.59" y="481.41">1</text>
</g>
<circle cx="506.6" cy="410.4" r="9.1" fill="none" stroke="#e8308f" stroke-width="1.4"/>
<circle cx="565.2" cy="432.3" r="9.1" fill="none" stroke="#e8308f" stroke-width="1.4"/>
<circle cx="645.7" cy="432.3" r="9.1" fill="none" stroke="#e8308f" stroke-width="1.4"/>
<g fill="#3246a3" font-size="11" font-weight="500" style="writing-mode:vertical-rl">
<text x="128.2" y="494.6">長男就職</text>
<text x="232.4" y="494.6">長女就職</text>
<text x="246.6" y="494.6">長男大学進学</text>
<text x="323.3" y="494.6">長男高校入学</text>
<text x="351.2" y="494.6">長女大学進学</text>
<text x="406.5" y="494.6">長男中学校入学</text>
<text x="432.9" y="494.6">長女高校入学</text>
<text x="515.2" y="494.6">長女中学校入学</text>
<text x="571.3" y="494.6">長男小学校入学</text>
<text x="627.4" y="494.6">長男幼稚園入学</text>
<text x="682.2" y="494.6">長女小学校入学</text>
<text x="737.5" y="494.6">長女幼稚園入学</text>
<text x="764.9" y="494.6">長男誕生</text>
<text x="791.9" y="494.6">住宅購入</text>
<text x="874.3" y="494.6">長女誕生</text>
<text x="902.9" y="494.6">結婚</text>
</g>
<circle cx="961.4" cy="600" r="8.8" fill="#fff" stroke="#e8308f" stroke-width="1.5"/>
<text x="971.3" y="603.47" font-size="10" fill="#2a2a2a" textLength="28.8" lengthAdjust="spacingAndGlyphs">は厄年</text>
</svg>
</body></html>
